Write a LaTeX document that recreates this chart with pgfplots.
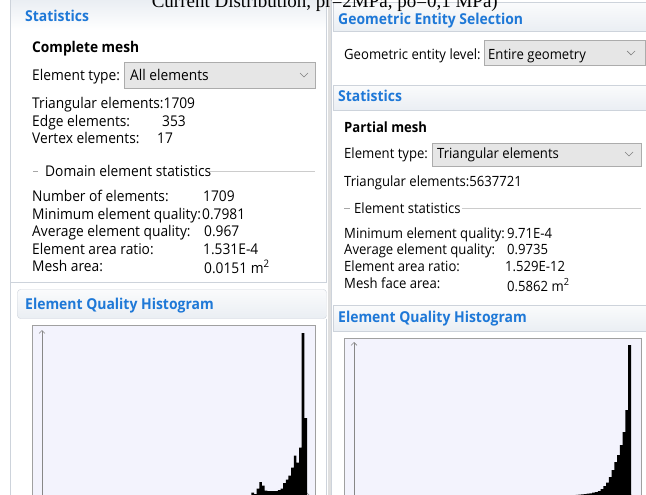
\documentclass[border=0pt]{standalone}
\usepackage{pgfplots}
\pgfplotsset{compat=1.18}
\usepackage{fontspec}
\setmainfont[FakeStretch=0.93]{Open Sans}
\newfontfamily\titlefont{Liberation Serif}
\usetikzlibrary{arrows.meta}
\definecolor{hblue}{RGB}{30,120,215}
\definecolor{bord}{RGB}{205,211,219}
\definecolor{hdtop}{RGB}{250,251,252}
\definecolor{hdbot}{RGB}{234,238,243}
\definecolor{ddfill}{RGB}{230,230,230}
\definecolor{ddbord}{RGB}{172,172,172}
\definecolor{histbg}{RGB}{243,243,253}
\definecolor{histfr}{RGB}{160,160,160}
\definecolor{axgray}{RGB}{135,135,135}
\newcommand\LT{\fontsize{14.8}{17}\selectfont}
\newcommand\RT{\fontsize{14.1}{16}\selectfont}
\newcommand\HT{\fontsize{15}{17}\selectfont\bfseries\color{hblue}}

\pgfplotstableread{
q h
0.78 0
0.79 3
0.80 1.5
0.81 7
0.82 13.5
0.83 10
0.84 5
0.85 4.5
0.86 4.5
0.87 4.5
0.88 4.5
0.89 5.5
0.90 7
0.91 12.5
0.92 16
0.93 20
0.94 28
0.95 40
0.96 33
0.97 48
0.98 162.5
0.99 77.5
1.00 77.5
}\lefthist

\pgfplotstableread{
q h
0.70 0.4
0.71 0.5
0.72 0.6
0.73 0.7
0.74 0.8
0.75 0.9
0.76 1.0
0.77 1.1
0.78 1.2
0.79 1.4
0.80 1.6
0.81 1.8
0.82 2.1
0.83 2.4
0.84 2.8
0.85 3.2
0.86 3.8
0.87 4.5
0.88 5.5
0.89 7.5
0.90 10.5
0.91 14
0.92 19.5
0.93 26.5
0.94 34.5
0.95 41.5
0.96 51.5
0.97 64.5
0.98 86.5
0.99 151.5
1.00 151.5
}\righthist

\begin{document}
\begin{tikzpicture}
\useasboundingbox (0,0) rectangle (646pt,-495pt);
\clip (0,0) rectangle (646pt,-495pt);
\begin{scope}[x=1pt,y=-1pt]
\fill[white] (0,0) rectangle (646,495);
% ---------- left panel ----------
\shade[top color=hdbot, bottom color=white] (11,0) rectangle (326,30);
\draw[bord] (10.5,0) -- (10.5,495);
\draw[bord] (326.5,0) -- (326.5,282.5) -- (10.5,282.5);
\node[anchor=base west, inner sep=0] at (25,22) {\HT Statistics};
\node[anchor=base west, inner sep=0] at (32,53) {\LT\bfseries Complete mesh};
\node[anchor=base west, inner sep=0] at (32,81) {\LT Element type:};
\draw[ddbord, fill=ddfill] (124.5,62.5) rectangle (315.5,88.5);
\node[anchor=base west, inner sep=0] at (130,81) {\LT All elements};
\draw[gray, line width=0.7pt] (300,73) -- (304,77) -- (308,73);
\node[anchor=base west, inner sep=0] at (32,109) {\LT Triangular elements:1709};
\node[anchor=base west, inner sep=0] at (32,126) {\LT Edge elements:};
\node[anchor=base west, inner sep=0] at (162,126) {\LT 353};
\node[anchor=base west, inner sep=0] at (32,143) {\LT Vertex elements:};
\node[anchor=base west, inner sep=0] at (157,143) {\LT 17};
\draw[gray!70] (33,171) -- (38,171);
\node[anchor=base west, inner sep=0] at (45,176) {\LT Domain element statistics};
\draw[gray!40] (208,171) -- (315,171);
\node[anchor=base west, inner sep=0] at (32,201) {\LT Number of elements:};
\node[anchor=base west, inner sep=0] at (203,201) {\LT 1709};
\node[anchor=base west, inner sep=0] at (32,219) {\LT Minimum element quality:};
\node[anchor=base west, inner sep=0] at (202,219) {\LT 0.7981};
\node[anchor=base west, inner sep=0] at (32,236) {\LT Average element quality:};
\node[anchor=base west, inner sep=0] at (204,236) {\LT 0.967};
\node[anchor=base west, inner sep=0] at (32,254) {\LT Element area ratio:};
\node[anchor=base west, inner sep=0] at (203,254) {\LT 1.531E-4};
\node[anchor=base west, inner sep=0] at (32,271) {\LT Mesh area:};
\node[anchor=base west, inner sep=0] at (204,273) {\LT 0.0151 m\textsuperscript{2}};
% histogram panel (left)
\shade[top color=hdtop, bottom color=hdbot, draw=bord, rounded corners=3pt] (17.5,289.5) rectangle (326.5,318.5);
\node[anchor=base west, inner sep=0] at (25,309) {\HT Element Quality Histogram};
\draw[bord] (326.5,318.5) -- (326.5,495);
\draw[histfr, fill=histbg] (32.5,325.5) rectangle (315.5,500);
% ---------- right panel ----------
\fill[gray!25] (327.5,0) rectangle (331,495);
\draw[bord] (331.5,0) -- (331.5,495);
\shade[top color=hdtop, bottom color=hdbot, draw=bord] (333.5,2.5) rectangle (648,31.5);
\node[anchor=base west, inner sep=0] at (338,25) {\HT Geometric Entity Selection};
\node[anchor=base west, inner sep=0] at (344,60) {\RT Geometric entity level:};
\draw[ddbord, fill=ddfill] (484.5,40.5) rectangle (645.5,65.5);
\node[anchor=base west, inner sep=0] at (488,60) {\RT Entire geometry};
\draw[gray, line width=0.7pt] (627,51) -- (631,55) -- (635,51);
\shade[top color=hdtop, bottom color=hdbot, draw=bord] (333.5,85.5) rectangle (648,110.5);
\node[anchor=base west, inner sep=0] at (338,102) {\HT Statistics};
\node[anchor=base west, inner sep=0] at (344,132) {\RT\bfseries Partial mesh};
\node[anchor=base west, inner sep=0] at (344,158) {\RT Element type:};
\draw[ddbord, fill=ddfill] (432.5,143.5) rectangle (641.5,166.5);
\node[anchor=base west, inner sep=0] at (437,158) {\RT Triangular elements};
\draw[gray, line width=0.7pt] (625,152) -- (629,156) -- (633,152);
\node[anchor=base west, inner sep=0] at (344,186) {\RT Triangular elements:5637721};
\draw[gray!70] (344,208) -- (350,208);
\node[anchor=base west, inner sep=0] at (354,213) {\RT Element statistics};
\draw[gray!40] (462,208) -- (641,208);
\node[anchor=base west, inner sep=0] at (344,238) {\RT Minimum element quality:};
\node[anchor=base west, inner sep=0] at (507,238) {\RT 9.71E-4};
\node[anchor=base west, inner sep=0] at (344,254) {\RT Average element quality:};
\node[anchor=base west, inner sep=0] at (507,254) {\RT 0.9735};
\node[anchor=base west, inner sep=0] at (344,271) {\RT Element area ratio:};
\node[anchor=base west, inner sep=0] at (505,271) {\RT 1.529E-12};
\node[anchor=base west, inner sep=0] at (344,288) {\RT Mesh face area:};
\node[anchor=base west, inner sep=0] at (507,291) {\RT 0.5862 m\textsuperscript{2}};
\shade[top color=hdtop, bottom color=hdbot, draw=bord] (333.5,305.5) rectangle (648,331.5);
\node[anchor=base west, inner sep=0] at (338,322) {\HT Element Quality Histogram};
\draw[histfr, fill=histbg] (344.5,338.5) rectangle (641.5,500);
\end{scope}
% ---------- histograms ----------
\begin{axis}[at={(42pt,-495.5pt)}, anchor=south west, scale only axis,
  width=268pt, height=165.5pt, xmin=0, xmax=1.0113, ymin=0, ymax=165.5,
  axis lines=left, ticks=none,
  axis line style={draw=axgray, line width=0.6pt, -{Straight Barb[length=3pt,width=6pt]}}]
\addplot[fill=black, draw=none, const plot] table[x=q,y=h] {\lefthist} \closedcycle;
\end{axis}
\begin{axis}[at={(354pt,-496.5pt)}, anchor=south west, scale only axis,
  width=279pt, height=154.5pt, xmin=0, xmax=1.0072, ymin=0, ymax=154.5,
  axis lines=left, ticks=none,
  axis line style={draw=axgray, line width=0.6pt, -{Straight Barb[length=3pt,width=6pt]}}]
\addplot[fill=black, draw=none, const plot] table[x=q,y=h] {\righthist} \closedcycle;
\end{axis}
\begin{scope}[x=1pt,y=-1pt]
\node[anchor=base east, inner sep=0, font=\titlefont\fontsize{19}{22}\selectfont] at (498,8) {Current Distribution, pr=2MPa, po=0,1 MPa)};
\end{scope}
\end{tikzpicture}
\end{document}
